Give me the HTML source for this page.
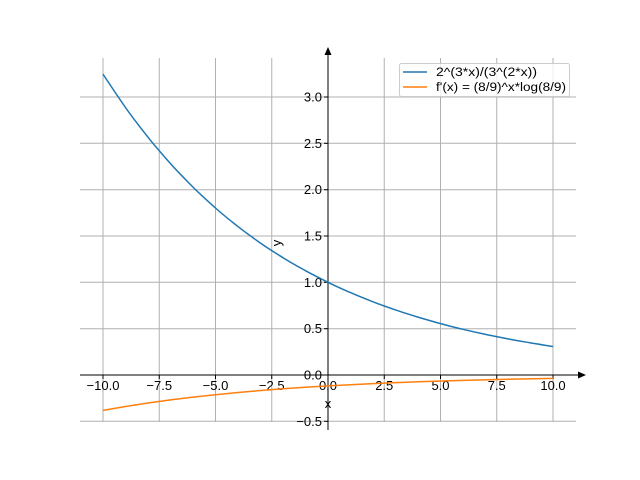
<!DOCTYPE html>
<html><head><meta charset="utf-8"><style>body{margin:0;background:#fff}svg{display:block}</style></head><body>
<svg width="640" height="480" xmlns="http://www.w3.org/2000/svg" font-family="Liberation Sans, DejaVu Sans, sans-serif" font-size="13">
<g stroke="#b0b0b0" stroke-width="1">
<line x1="103" y1="58" x2="103" y2="422"/><line x1="159.25" y1="58" x2="159.25" y2="422"/><line x1="215.5" y1="58" x2="215.5" y2="422"/><line x1="271.75" y1="58" x2="271.75" y2="422"/><line x1="328" y1="58" x2="328" y2="422"/><line x1="384.25" y1="58" x2="384.25" y2="422"/><line x1="440.5" y1="58" x2="440.5" y2="422"/><line x1="496.75" y1="58" x2="496.75" y2="422"/><line x1="553" y1="58" x2="553" y2="422"/>
<line x1="80" y1="421.3" x2="576" y2="421.3"/><line x1="80" y1="375" x2="576" y2="375"/><line x1="80" y1="328.7" x2="576" y2="328.7"/><line x1="80" y1="282.3" x2="576" y2="282.3"/><line x1="80" y1="236" x2="576" y2="236"/><line x1="80" y1="189.7" x2="576" y2="189.7"/><line x1="80" y1="143.3" x2="576" y2="143.3"/><line x1="80" y1="97" x2="576" y2="97"/>
</g>
<g stroke="#000" stroke-width="1">
<line x1="328" y1="52" x2="328" y2="430"/><line x1="80" y1="375" x2="580" y2="375"/>
<line x1="103" y1="375" x2="103" y2="379"/><line x1="159.25" y1="375" x2="159.25" y2="379"/><line x1="215.5" y1="375" x2="215.5" y2="379"/><line x1="271.75" y1="375" x2="271.75" y2="379"/><line x1="384.25" y1="375" x2="384.25" y2="379"/><line x1="440.5" y1="375" x2="440.5" y2="379"/><line x1="496.75" y1="375" x2="496.75" y2="379"/><line x1="553" y1="375" x2="553" y2="379"/>
<line x1="324" y1="421.3" x2="328" y2="421.3"/><line x1="324" y1="328.7" x2="328" y2="328.7"/><line x1="324" y1="282.3" x2="328" y2="282.3"/><line x1="324" y1="236" x2="328" y2="236"/><line x1="324" y1="189.7" x2="328" y2="189.7"/><line x1="324" y1="143.3" x2="328" y2="143.3"/><line x1="324" y1="97" x2="328" y2="97"/>
</g>
<polygon points="328,47 324.5,55 331.5,55" fill="#000"/>
<polygon points="586,375 578,371.5 578,378.5" fill="#000"/>
<g text-anchor="middle">
<text x="103" y="390">−10.0</text><text x="159.25" y="390">−7.5</text><text x="215.5" y="390">−5.0</text><text x="271.75" y="390">−2.5</text><text x="328" y="390">0.0</text><text x="384.25" y="390">2.5</text><text x="440.5" y="390">5.0</text><text x="496.75" y="390">7.5</text><text x="553" y="390">10.0</text>
<text x="328" y="408">x</text>
</g>
<g text-anchor="end">
<text x="322" y="425.8">−0.5</text><text x="322" y="379.5">0.0</text><text x="322" y="333.2">0.5</text><text x="322" y="286.8">1.0</text><text x="322" y="240.5">1.5</text><text x="322" y="194.2">2.0</text><text x="322" y="147.8">2.5</text><text x="322" y="101.5">3.0</text>
</g>
<text transform="translate(281,243) rotate(-90)" text-anchor="middle">y</text>
<path fill="none" stroke="#1f77b4" stroke-width="1.5" d="M103,74.1 C110.5,85.5 118,96.7 125.5,107.5 S140.5,127.6 148,137.2 S163,155.1 170.5,163.6 S185.5,179.5 193,187.1 S208,201.2 215.5,208 S230.5,220.6 238,226.6 S253,237.8 260.5,243.1 S275.5,253 283,257.7 S298,266.5 305.5,270.7 S320.5,278.4 328,282.3 S343,289.3 350.5,292.6 S365.5,298.9 373,301.8 S388,307.3 395.5,309.9 S410.5,314.8 418,317.1 S433,321.5 440.5,323.6 S455.5,327.5 463,329.3 S478,332.8 485.5,334.4 S500.5,337.4 508,338.9 S523,341.6 530.5,342.9 S545.5,345.3 553,346.5"/>
<polyline fill="none" stroke="#ff7f0e" stroke-width="1.5" points="103,410.4 125.5,406.5 148,403 170.5,399.9 193,397.1 215.5,394.7 238,392.5 260.5,390.5 283,388.8 305.5,387.3 328,385.9 373,383.6 418,381.8 463,380.4 508,379.3 553,378.4"/>
<rect x="399.5" y="63.5" width="170" height="33" rx="2" fill="#fff" fill-opacity="0.8" stroke="#ccc"/>
<line x1="403" y1="72" x2="427" y2="72" stroke="#1f77b4" stroke-width="1.5"/>
<line x1="403" y1="87" x2="427" y2="87" stroke="#ff7f0e" stroke-width="1.5"/>
<text x="436" y="76" font-size="11.5" textLength="101" lengthAdjust="spacingAndGlyphs">2^(3*x)/(3^(2*x))</text>
<text x="436" y="91" font-size="11.5" textLength="130" lengthAdjust="spacingAndGlyphs">f'(x) = (8/9)^x*log(8/9)</text>
</svg>
</body></html>
